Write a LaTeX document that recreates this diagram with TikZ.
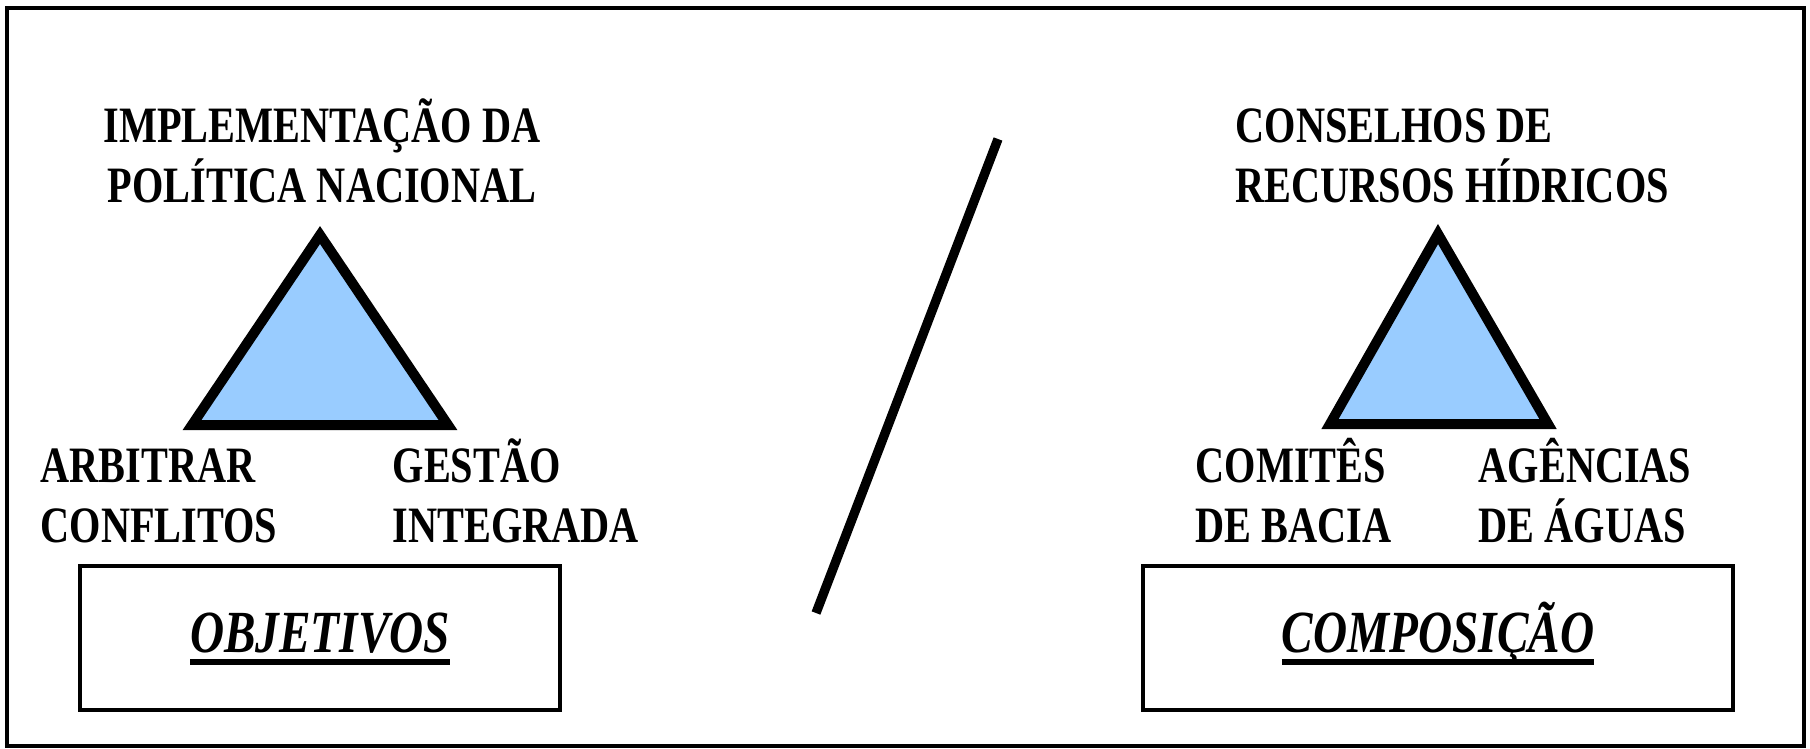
\documentclass[tikz,border=0pt]{standalone}
\usepackage{fontspec}
\setmainfont{Liberation Serif}[FakeStretch=0.79]
\usetikzlibrary{positioning}
\definecolor{triBlue}{RGB}{153,204,255}
\newcommand{\thickunder}[1]{\setbox0\hbox{#1}\rlap{\raisebox{-3.7pt}{\rule{\wd0}{1.7pt}}}\box0}

\begin{document}
\begin{tikzpicture}[
    x=0.01cm, y=-0.01cm,
    toptext/.style={inner sep=0pt, font=\fontsize{14.5}{17}\selectfont\bfseries, align=left, anchor=base west},
    groupbox/.style={draw, line width=1.2pt, inner sep=0pt, minimum height=1.44cm, text height=12pt, text depth=4pt, font=\fontsize{17}{20}\selectfont\bfseries\itshape},
    tri/.style={draw, line width=2.85pt, fill=triBlue},
    divider/.style={line width=2.65pt},
    frame/.style={draw, line width=1.2pt}
]

\useasboundingbox (0,0) rectangle (1810,748);
\draw[frame] (7,8) rectangle (1804,746);

\node[toptext, align=center, anchor=base] (politica) at (322,202) {IMPLEMENTAÇÃO DA\\POLÍTICA NACIONAL};
\node[toptext] (conselhos) at (1235,202) {CONSELHOS DE\\RECURSOS HÍDRICOS};

\coordinate (lTop) at (320,235);
\coordinate (lLeft) at (192,425);
\coordinate (lRight) at (448,425);
\draw[tri] (lTop) -- (lLeft) -- (lRight) -- cycle;

\coordinate (rTop) at (1438,234);
\coordinate (rLeft) at (1330,424);
\coordinate (rRight) at (1548,424);
\draw[tri] (rTop) -- (rLeft) -- (rRight) -- cycle;

\node[toptext] (arbitrar) at (40,542) {ARBITRAR\\CONFLITOS};
\node[toptext] (gestao) at (392,542) {GESTÃO\\INTEGRADA};
\node[toptext] (comites) at (1195,542) {COMITÊS\\DE BACIA};
\node[toptext] (agencias) at (1478,542) {AGÊNCIAS\\DE ÁGUAS};

\node[groupbox, minimum width=4.79cm] (objetivos) at (320,638) {\thickunder{OBJETIVOS}};
\node[groupbox, minimum width=5.89cm] (composicao) at (1438,638) {\thickunder{COMPOSIÇÃO}};

\coordinate (slashTop) at (998,139);
\coordinate (slashBot) at (816,613);
\draw[divider] (slashTop) -- (slashBot);

\end{tikzpicture}
\end{document}
